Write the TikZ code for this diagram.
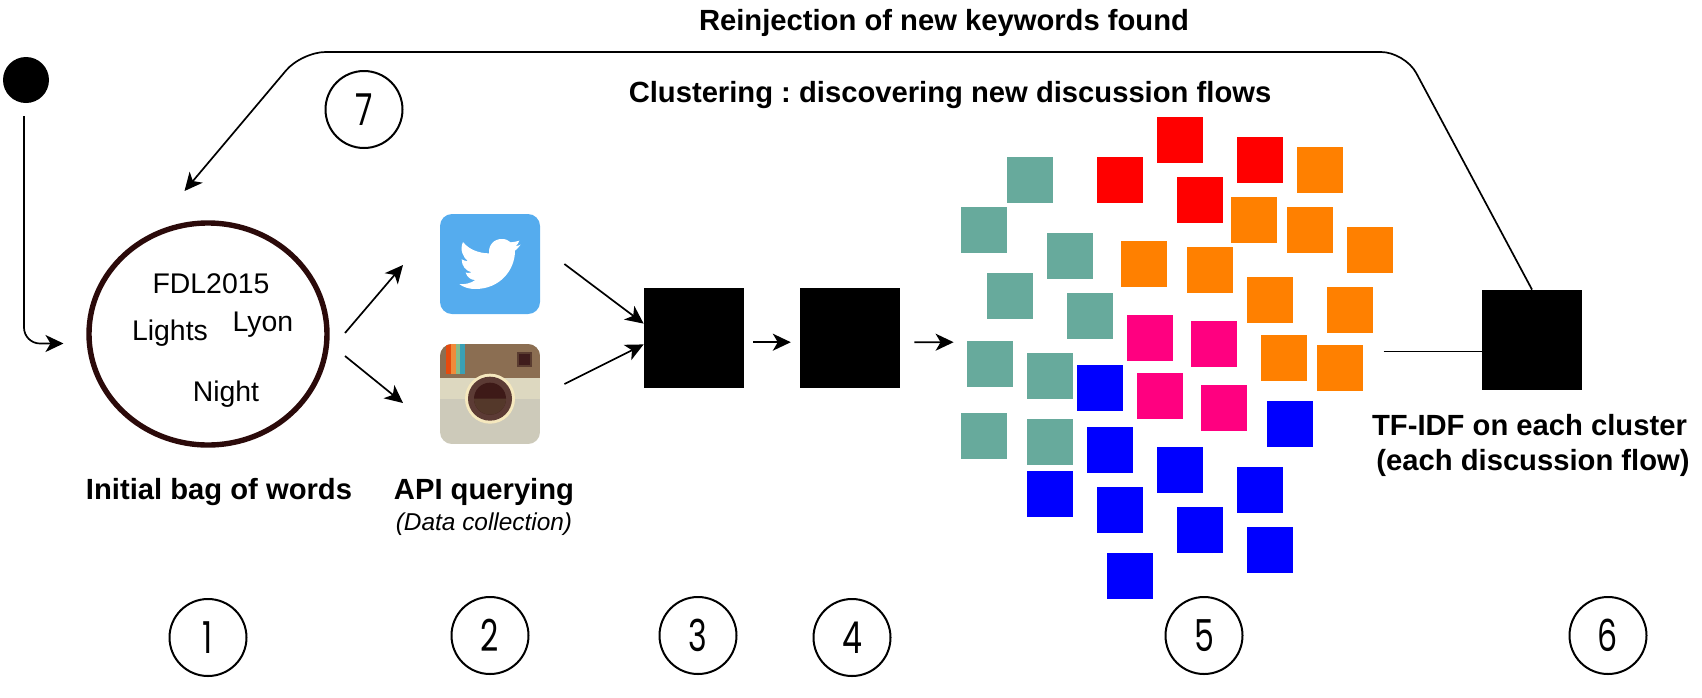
\documentclass[tikz,border=0pt]{standalone}
\usepackage{fontspec}
\setmainfont{Liberation Sans}
\newfontfamily\digitfont[FakeStretch=0.72]{Poppins}
\usetikzlibrary{arrows.meta,shapes.geometric}
\definecolor{tealtile}{HTML}{67AA9C}
\definecolor{redtile}{HTML}{FF0000}
\definecolor{orangetile}{HTML}{FF8000}
\definecolor{pinktile}{HTML}{FF0080}
\definecolor{bluetile}{HTML}{0000FF}
\definecolor{ringdark}{HTML}{2B0A0A}
\definecolor{twitterblue}{HTML}{55ACEE}
\definecolor{camgrey}{RGB}{205,202,186}
\definecolor{cambeige}{RGB}{221,216,192}
\definecolor{cambrown}{RGB}{139,110,82}
\definecolor{stripeone}{RGB}{230,74,13}
\definecolor{stripetwo}{RGB}{240,139,58}
\definecolor{stripethree}{RGB}{134,187,138}
\definecolor{stripefour}{RGB}{58,160,181}
\definecolor{finderrim}{RGB}{90,60,48}
\definecolor{finderdark}{RGB}{63,28,28}
\definecolor{lenscream}{RGB}{245,232,190}
\definecolor{lensring}{RGB}{92,59,53}
\definecolor{lenstop}{RGB}{84,56,42}
\definecolor{lensbottom}{RGB}{62,26,24}
\tikzset{
  flow/.style={line width=0.85pt,-{Stealth[length=9pt,width=8.5pt,inset=2.5pt]}},
  plainline/.style={line width=0.85pt},
  tile/.style={minimum size=23pt,inner sep=0pt},
  blackbox/.style={fill=black,minimum size=50pt,inner sep=0pt},
  stepnum/.style={draw,ellipse,line width=1pt,minimum width=38.5pt,minimum height=38.5pt,inner sep=0pt,font=\digitfont\fontsize{22}{24}\selectfont},
  title/.style={font=\bfseries\fontsize{14.6}{16}\selectfont,inner sep=0pt},
  word/.style={font=\fontsize{14.2}{16}\selectfont,inner sep=0pt}
}
\begin{document}
\frenchspacing
\begin{tikzpicture}[x=0.5pt,y=-0.5pt]
\useasboundingbox (0,0) rectangle (1702,697);
% start point and bag of words
\node[fill=black,circle,minimum size=23pt,inner sep=0pt] (startdot) at (26,80) {};
\node[draw=ringdark,ellipse,line width=2.7pt,minimum width=119pt,minimum height=111pt,inner sep=0pt] (bag) at (208,334) {};
\node[word] (fdl) at (211,284) {FDL2015};
\node[word] (lights) at (170,333) {Lights};
\node[word] (lyon) at (263,325) {Lyon};
\node[word] (night) at (226,394) {Night};
% icons
\begin{scope}[shift={(420,200)},x=0.16667pt,y=-0.16667pt]
\fill[twitterblue,rounded corners=6pt] (60,42) rectangle (360,342);
\fill[white] (207,160) .. controls (205,135) and (222,116) .. (247,117)
  .. controls (258,117) and (266,122) .. (272,127)
  .. controls (283,126) and (292,124) .. (298,122)
  .. controls (296,129) and (292,134) .. (287,138)
  .. controls (293,138) and (298,136) .. (302,134)
  .. controls (296,142) and (290,148) .. (285,152)
  .. controls (285,210) and (240,267) .. (165,267)
  .. controls (148,267) and (130,262) .. (118,252)
  .. controls (135,254) and (152,250) .. (166,240)
  .. controls (152,240) and (141,231) .. (137,218)
  .. controls (143,219) and (150,219) .. (155,217)
  .. controls (138,213) and (125,198) .. (125,178)
  .. controls (130,181) and (137,183) .. (144,184)
  .. controls (130,172) and (118,150) .. (129,126)
  .. controls (145,147) and (175,160) .. (207,160) -- cycle;
\begin{scope}
\clip[rounded corners=6pt] (60,432) rectangle (360,732);
\fill[camgrey] (60,432) rectangle (360,732);
\fill[cambeige] (60,534) rectangle (360,597);
\fill[cambrown] (60,432) rectangle (360,534);
\fill[stripeone] (78,432) rectangle (93,522);
\fill[stripetwo] (93,432) rectangle (107,522);
\fill[stripethree] (107,432) rectangle (121,522);
\fill[stripefour] (121,432) rectangle (136,522);
\end{scope}
\fill[finderrim] (291,457) rectangle (335,500);
\fill[finderdark] (296,462) rectangle (330,495);
\fill[lenscream] (210,596) circle (75);
\fill[lensring] (210,596) circle (66);
\fill[lensbottom] (210,596) circle (48);
\fill[lenstop] (162,596) arc (180:0:48) -- cycle;
\end{scope}
% black boxes
\node[blackbox] (collect) at (694,338) {};
\node[blackbox] (prepro) at (850,338) {};
\node[blackbox] (tfidf) at (1532,340) {};
% clusters
\foreach \x/\y [count=\i] in {1029.8/179.8,984.2/230,1070/255.8,1010.3/295.8,1090.1/315.8,990.2/363.8,1049.9/375.8,984.2/435.8,1049.9/442}
  \node[tile,fill=tealtile] (teal\i) at (\x,\y) {};
\foreach \x/\y [count=\i] in {1119.9/179.8,1180.2/139.8,1260/159.8,1200.3/199.8}
  \node[tile,fill=redtile] (red\i) at (\x,\y) {};
\foreach \x/\y [count=\i] in {1320.2/170,1254/219.8,1309.9/230,1370.1/250,1143.8/263.8,1210/270,1270.3/299.8,1350/310,1283.8/358,1340.3/367.8}
  \node[tile,fill=orangetile] (orange\i) at (\x,\y) {};
\foreach \x/\y [count=\i] in {1150.3/338,1213.8/343.8,1160.1/395.8,1224.1/407.8}
  \node[tile,fill=pinktile] (pink\i) at (\x,\y) {};
\foreach \x/\y [count=\i] in {1099.8/387.8,1289.8/423.8,1110.2/450,1180.2/470,1260/490,1049.9/494,1119.9/510,1200.3/530,1270.3/550,1130.2/575.8}
  \node[tile,fill=bluetile] (blue\i) at (\x,\y) {};
% free ends
\coordinate (entryfrom) at (24,116);
\coordinate (entryto) at (63.5,343.5);
\coordinate (bagup) at (345,333);
\coordinate (bagdown) at (345,356);
\coordinate (twitterin) at (403,265);
\coordinate (instain) at (403,403);
\coordinate (twitterout) at (564.4,264);
\coordinate (instaout) at (564.4,384);
\coordinate (clusterin) at (953.6,342.2);
\coordinate (bendright) at (1405,52);
\coordinate (bendleft) at (301.6,52);
\coordinate (backto) at (184.5,191);
\coordinate (clusterout) at ([xshift=-49pt,yshift=-5.7pt]tfidf.west);
% connectors
\draw[flow,rounded corners=8pt] (entryfrom) |- (entryto);
\draw[flow] (bagup) -- (twitterin);
\draw[flow] (bagdown) -- (instain);
\draw[flow] (twitterout) -- ([yshift=7.2pt]collect.west);
\draw[flow] (instaout) -- ([yshift=-3.2pt]collect.west);
\draw[flow,shorten <=4.4pt,shorten >=4.4pt] ([yshift=-2.1pt]collect.east) -- ([yshift=-2.1pt]prepro.west);
\draw[flow,shorten <=7pt] ([yshift=-2.1pt]prepro.east) -- (clusterin);
\draw[plainline] (clusterout) -- ([yshift=-5.7pt]tfidf.west);
\draw[flow,rounded corners=12pt] (tfidf.north) -- (bendright) -- (bendleft) -- (backto);
% labels
\node[title] (reinject) at (944,23) {Reinjection of new keywords found};
\node[title] (clustering) at (950,95) {Clustering : discovering new discussion flows};
\node[title] (baglabel) at (219,492) {Initial bag of words};
\node[title] (apilabel) at (484,492) {API querying};
\node[font=\itshape\fontsize{12.2}{14}\selectfont,inner sep=0pt] (datalabel) at (484,524) {(Data collection)};
\node[title] (tfone) at (1529.5,425) {TF-IDF on each cluster};
\node[title] (tftwo) at (1533,463) {(each discussion flow)};
% step numbers
\node[stepnum] (one) at (208,637.5) {1};
\node[stepnum] (two) at (490,635.5) {2};
\node[stepnum] (three) at (698,635.5) {3};
\node[stepnum] (four) at (852,637.5) {4};
\node[stepnum] (five) at (1204,635.5) {5};
\node[stepnum] (six) at (1608,635.5) {6};
\node[stepnum] (seven) at (364,109.5) {7};
\end{tikzpicture}
\end{document}
